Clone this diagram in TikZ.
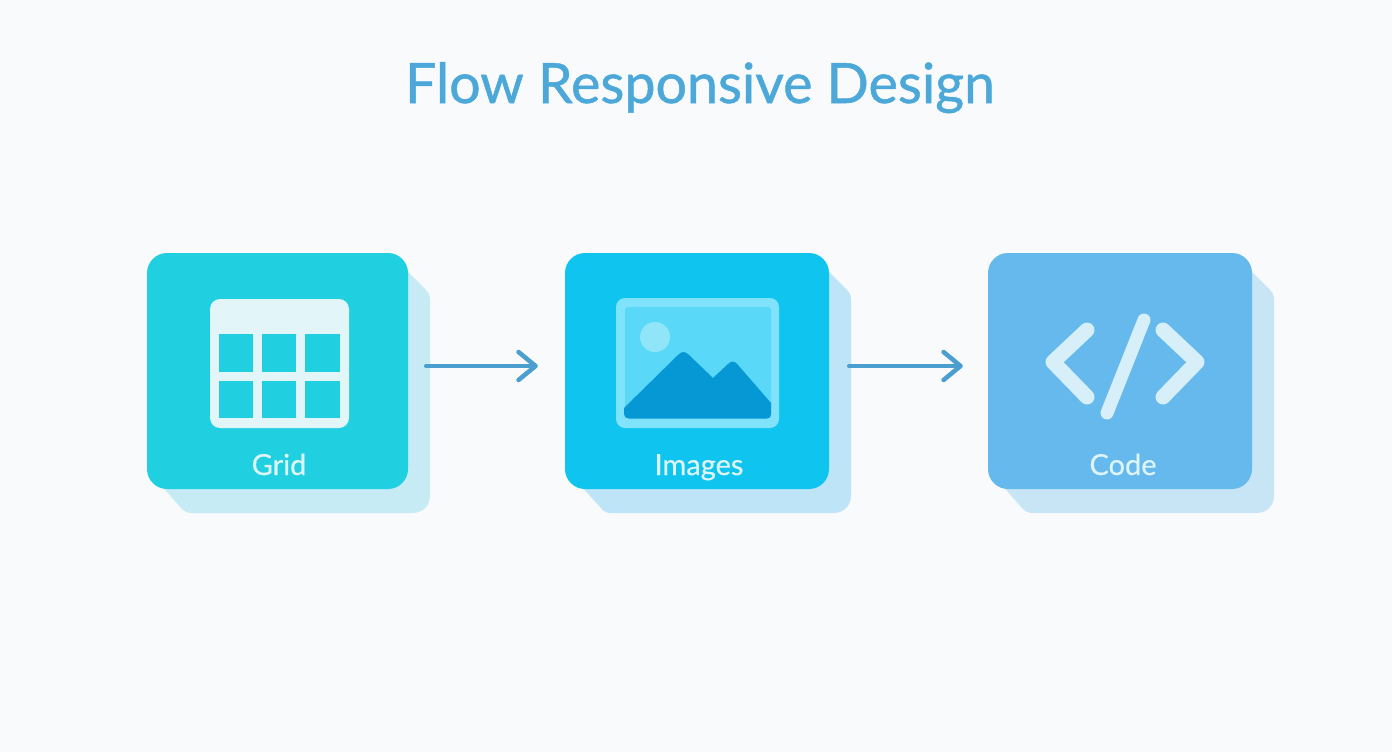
\documentclass[tikz,border=0pt]{standalone}
\usepackage{fontspec}
\setmainfont{Lato}
\newfontfamily\titlefont[FakeBold=0.9]{Lato}
\newfontfamily\labelfont[FakeBold=0.5]{Lato}
\usetikzlibrary{arrows.meta}
\definecolor{bgc}{HTML}{F8FAFC}
\definecolor{titlec}{HTML}{4CA8D8}
\definecolor{cardA}{HTML}{20D0E0}
\definecolor{cardB}{HTML}{10C4F0}
\definecolor{cardC}{HTML}{66B9EC}
\definecolor{shA}{HTML}{C6EBF5}
\definecolor{shB}{HTML}{BEE5F7}
\definecolor{shC}{HTML}{C8E5F5}
\definecolor{arrowc}{HTML}{4A9FD0}
\definecolor{iconA}{HTML}{E2F6FA}
\definecolor{frameB}{HTML}{80E3FB}
\definecolor{skyB}{HTML}{5AD8F7}
\definecolor{sunB}{HTML}{90E5F8}
\definecolor{mountB}{HTML}{0598D4}
\definecolor{iconC}{HTML}{D6EFF8}
\definecolor{labelc}{HTML}{DDF5F8}
\tikzset{
  cardbox/.style={rectangle,rounded corners=20pt,draw=none,inner sep=0pt,minimum height=236pt},
  cardlabel/.style={anchor=base,text=labelc,inner sep=0pt,font=\labelfont\fontsize{29}{32}\selectfont},
  flowarrow/.style={draw=arrowc,line width=4.5pt,line cap=round,
    -{Straight Barb[round,length=17pt,width=28pt,line width=4.5pt]}},
  codestroke/.style={draw=iconC,line width=15pt,line cap=round,line join=round},
}
\begin{document}
\begin{tikzpicture}[x=1pt,y=-1pt]
\useasboundingbox (0,0) rectangle (1392,752);
\fill[bgc] (0,0) rectangle (1392,752);
% title
\node[anchor=base,text=titlec,inner sep=0pt,font=\titlefont\fontsize{55.5}{60}\selectfont] (title) at (700,103) {Flow Responsive Design};
% shadows
\fill[shA] (400,264) -- (408,272) -- (426,290) .. controls (429,293) and (430,296) .. (430,300) -- (430,495) .. controls (430,506) and (423,513) .. (412,513) -- (192,513) .. controls (187,513) and (184,511) .. (181,508) -- (160,484) -- cycle;
\fill[shB] (820,264) -- (829,272) -- (847,290) .. controls (850,293) and (851,296) .. (851,300) -- (851,495) .. controls (851,506) and (844,513) .. (833,513) -- (610,513) .. controls (606,513) and (603,511) .. (601,508) -- (579,484) -- cycle;
\fill[shC] (1244,264) -- (1252,272) -- (1270,290) .. controls (1273,293) and (1274,296) .. (1274,300) -- (1274,495) .. controls (1274,506) and (1267,513) .. (1256,513) -- (1032,513) .. controls (1028,513) and (1025,511) .. (1022,508) -- (1001,484) -- cycle;
% cards
\node[cardbox,fill=cardA,minimum width=261pt] (grid) at (277.5,371) {};
\node[cardbox,fill=cardB,minimum width=264pt] (images) at (697,371) {};
\node[cardbox,fill=cardC,minimum width=264pt] (code) at (1120,371) {};
% connectors
\draw[flowarrow,shorten <=18pt,shorten >=27pt] ([yshift=5pt]grid.east) -- ([yshift=5pt]images.west);
\draw[flowarrow,shorten <=20pt,shorten >=25pt] ([yshift=5pt]images.east) -- ([yshift=5pt]code.west);
% grid icon
\fill[iconA,rounded corners=10pt] (210,299) rectangle (349,428);
\foreach \xa/\xb in {219/253,262/296,305/340}{
  \fill[cardA] (\xa,334) rectangle (\xb,372);
  \fill[cardA] (\xa,381) rectangle (\xb,418);
}
% image icon
\fill[frameB,rounded corners=9pt] (616,298) rectangle (779,428);
\fill[skyB,rounded corners=3pt] (625,307) rectangle (771,418);
\fill[sunB] (655,337) circle[radius=15pt];
\fill[mountB] (629,418.5) .. controls (626,418.5) and (624,417) .. (624,414) -- (624,408) -- (678,355) .. controls (682,351) and (685,351) .. (689,355) -- (713,378) -- (728,364) .. controls (732,360) and (735,361) .. (738,365) -- (771,403) -- (771,414) .. controls (771,417) and (770,418.5) .. (767,418.5) -- cycle;
% code icon
\draw[codestroke] (1087,330) -- (1053,362) -- (1087,397);
\draw[codestroke] (1163,330) -- (1197,362) -- (1163,397);
\draw[codestroke,line width=13pt] (1144,320) -- (1107,413);
% labels
\node[cardlabel] (gridlabel) at (279,475) {Grid};
\node[cardlabel] (imageslabel) at (699,475) {Images};
\node[cardlabel] (codelabel) at (1123,475) {Code};
\end{tikzpicture}
\end{document}
